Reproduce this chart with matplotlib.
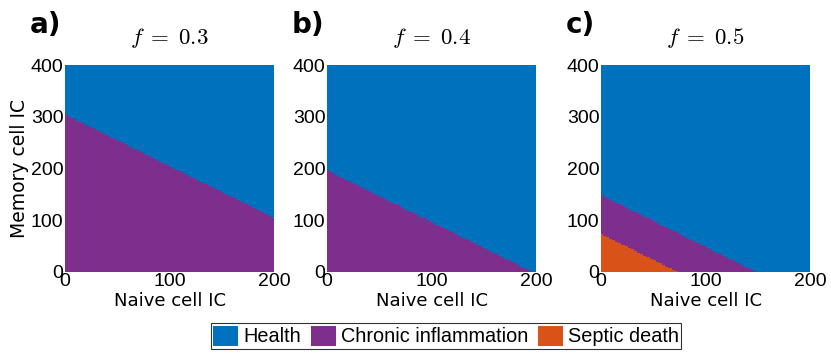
import numpy as np
import matplotlib
matplotlib.use("Agg")
import matplotlib.pyplot as plt
from matplotlib.colors import ListedColormap
from matplotlib.patches import Patch

# Data
panel_labels = ["a)", "b)", "c)"]
f_values = [0.3, 0.4, 0.5]
# Memory cell IC where Health begins at Naive=0 and at Naive=200 (boundary line)
health_start = [305, 198, 150]
health_end = [105, -2, -50]
# Septic death region boundary (Memory at Naive=0, Memory at Naive=200)
septic_start = [0, 0, 75]
septic_end = [0, 0, -125]
categories = ["Health", "Chronic inflammation", "Septic death"]
colors = ["#0072BD", "#7E2F8E", "#D95319"]
naive_max = 200
memory_max = 400
grid_step = 3

plt.rcParams["mathtext.fontset"] = "cm"
fig = plt.figure(figsize=(8.31, 3.56), dpi=100)
W, H = 831, 356
lefts = [65, 327, 601]
top, bottom = 65, 272
width = 209

cmap = ListedColormap(colors)
naive = np.arange(0, naive_max + grid_step, grid_step)
memory = np.arange(0, memory_max + grid_step, grid_step)
NN, MM = np.meshgrid(naive, memory)

for i in range(3):
    ax = fig.add_axes([lefts[i] / W, 1 - bottom / H, width / W, (bottom - top) / H])
    hb = health_start[i] + (health_end[i] - health_start[i]) * NN / naive_max
    sb = septic_start[i] + (septic_end[i] - septic_start[i]) * NN / naive_max
    cls = np.where(MM >= hb, 0, 1)
    cls = np.where(MM < sb, 2, cls)
    ax.pcolormesh(np.append(naive, naive[-1] + grid_step) - grid_step / 2,
                  np.append(memory, memory[-1] + grid_step) - grid_step / 2,
                  cls, cmap=cmap, vmin=-0.5, vmax=2.5, shading="flat")
    ax.set_xlim(0, naive_max)
    ax.set_ylim(0, memory_max)
    ax.set_xticks([0, 100, 200])
    ax.set_yticks([0, 100, 200, 300, 400])
    ax.tick_params(length=0, labelsize=14, pad=1)
    for lab in ax.get_xticklabels() + ax.get_yticklabels():
        lab.set_fontfamily("Liberation Sans")
    for s in ax.spines.values():
        s.set_visible(False)
    ax.set_xlabel("Naive cell IC", fontsize=13, labelpad=1)
    if i == 0:
        ax.set_ylabel("Memory cell IC", fontsize=13.5, labelpad=1)
    ax.set_title(r"$f\;=\;%.1f$" % f_values[i], fontsize=16.5, pad=15)
    fig.text((lefts[i] - 35) / W, 1 - 25 / H, panel_labels[i], fontsize=20,
             fontweight="bold", va="center", ha="left")

handles = [Patch(facecolor=c, edgecolor="none") for c in colors]
leg = fig.legend(handles, categories, loc="center", bbox_to_anchor=(446 / W, 1 - 336 / H),
                 ncol=3, frameon=True, fancybox=False, edgecolor="black",
                 prop={"family": "Liberation Sans", "size": 14.3},
                 handlelength=1.25, handleheight=1.2, handletextpad=0.25,
                 columnspacing=0.5, borderpad=0.12, borderaxespad=0)
leg.get_frame().set_linewidth(0.8)

fig.savefig("out.png", dpi=100)
